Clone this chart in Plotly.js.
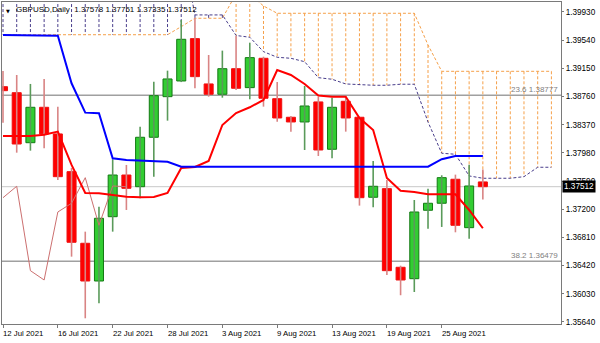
<!DOCTYPE html>
<html>
<head>
<meta charset="utf-8">
<script src="https://cdn.plot.ly/plotly-3.0.1.min.js"></script>
<style>
html,body{margin:0;padding:0;background:#ffffff;}
#chart{width:600px;height:343px;}
</style>
</head>
<body>
<div id="chart"></div>
<script>
// ---------------- data ----------------
const dates = ['2021-07-12','2021-07-13','2021-07-14','2021-07-15','2021-07-16',
  '2021-07-19','2021-07-20','2021-07-21','2021-07-22','2021-07-23',
  '2021-07-26','2021-07-27','2021-07-28','2021-07-29','2021-07-30',
  '2021-08-02','2021-08-03','2021-08-04','2021-08-05','2021-08-06',
  '2021-08-09','2021-08-10','2021-08-11','2021-08-12','2021-08-13',
  '2021-08-16','2021-08-17','2021-08-18','2021-08-19','2021-08-20',
  '2021-08-23','2021-08-24','2021-08-25','2021-08-26','2021-08-27',
  '2021-08-30'];
const openP  = [1.38896,1.38813,1.38121,1.38611,1.38242,1.37720,1.36729,1.36207,1.37097,1.37674,
  1.37512,1.38196,1.38758,1.38975,1.39561,1.38934,1.38791,1.39145,1.38883,1.39289,
  1.38730,1.38473,1.38408,1.38685,1.38030,1.38694,1.38473,1.37366,1.37485,1.36397,
  1.36239,1.37186,1.37283,1.37615,1.36945,1.37578];
const highP  = [1.39114,1.39058,1.38934,1.39003,1.38620,1.37771,1.36890,1.37236,1.37892,1.37813,
  1.38343,1.38966,1.39118,1.39819,1.39843,1.39335,1.39395,1.39598,1.39505,1.39311,
  1.38961,1.38491,1.38906,1.38758,1.38744,1.38758,1.38477,1.37868,1.37605,1.36419,
  1.37328,1.37485,1.37670,1.37679,1.37817,1.37751];
const lowP   = [1.38398,1.37983,1.38011,1.38044,1.37605,1.36544,1.35691,1.35899,1.36890,1.37190,
  1.37352,1.37651,1.38426,1.38960,1.38874,1.38758,1.38744,1.38851,1.38722,1.38620,
  1.38412,1.38274,1.38020,1.37937,1.37905,1.38274,1.37250,1.37227,1.36290,1.36010,
  1.36055,1.36931,1.36955,1.36881,1.36793,1.37335];
const closeP = [1.38841,1.38103,1.38611,1.38242,1.37651,1.36743,1.36207,1.37075,1.37674,1.37490,
  1.38196,1.38772,1.39003,1.39552,1.39035,1.38791,1.39145,1.38874,1.39298,1.38736,
  1.38463,1.38408,1.38629,1.38020,1.38611,1.38463,1.37360,1.37518,1.36350,1.36221,
  1.37162,1.37283,1.37637,1.36978,1.37522,1.37512];

// Ichimoku lines
const tenkan = [1.38214,1.38214,1.38214,1.38232,1.38274,1.37813,1.37425,1.37421,1.37398,1.37374,
  1.37366,1.37370,1.37425,1.37771,1.37785,1.37868,1.38366,1.38532,1.38611,1.38712,
  1.39127,1.39058,1.38934,1.38775,1.38758,1.38758,1.38463,1.38297,1.37633,1.37457,
  1.37439,1.37407,1.37407,1.37407,1.37190,1.36937];
const kijun = [1.39612,1.39612,1.39602,1.39602,1.39602,1.38943,1.38537,1.38528,1.37905,1.37882,
  1.37875,1.37868,1.37858,1.37789,1.37789,1.37789,1.37789,1.37789,1.37789,1.37789,
  1.37789,1.37789,1.37789,1.37789,1.37789,1.37789,1.37789,1.37789,1.37789,1.37789,
  1.37789,1.37789,1.37892,1.37937,1.37937,1.37937];
// Senkou span A (dark slate blue) and span B (sandy brown), 41 bars incl. 5 ahead
const spanA = [1.40870,1.40870,1.40870,1.40870,1.40870,1.40870,1.40870,1.40870,1.40870,1.40870,
  1.40870,1.40870,1.40870,1.40870,1.39889,1.39889,1.39889,1.39605,1.39580,1.39381,
  1.39303,1.39289,1.39242,1.39021,1.38999,1.38934,1.38920,1.38916,1.38916,1.38930,
  1.38930,1.38408,1.37975,1.37961,1.37661,1.37629,1.37629,1.37629,1.37651,1.37781,
  1.37781];
const spanB = [1.39615,1.39615,1.39615,1.39615,1.39615,1.39615,1.39615,1.39615,1.39615,1.39615,
  1.39615,1.39615,1.39615,1.39727,1.39843,1.39843,1.39843,1.40179,1.40179,1.40013,
  1.39912,1.39912,1.39912,1.39912,1.39912,1.39912,1.39912,1.39912,1.39912,1.39912,
  1.39912,1.39473,1.39109,1.39109,1.39109,1.39109,1.39109,1.39109,1.39109,1.39109,
  1.39109];
const chikouShift = 26;

const fibLevels = [1.38777, 1.36479];
const fibLabels = ['23.6 1.38777', '38.2 1.36479'];
const bidPrice = 1.37512;

const tickDates = ['2021-07-12','2021-07-16','2021-07-22','2021-07-28','2021-08-03',
  '2021-08-09','2021-08-13','2021-08-19','2021-08-25'];
const tickText = ['12 Jul 2021','16 Jul 2021','22 Jul 2021','28 Jul 2021','3 Aug 2021',
  '9 Aug 2021','13 Aug 2021','19 Aug 2021','25 Aug 2021'];
const yTicks = [1.35640,1.36030,1.36420,1.36810,1.37200,1.37590,1.37980,1.38370,1.38760,1.39150,1.39540,1.39930];
const headerText = 'GBPUSD,Daily\u00a0\u00a01.37578 1.37751 1.37335 1.37512';

// ---------------- build traces ----------------
const idx = dates.map((d, i) => i);
const FONT = 'Liberation Sans, Arial, sans-serif';

// cloud hatch
const hOx = [], hOy = [], hNx = [], hNy = [];
spanA.forEach((a, i) => {
  const b = spanB[i];
  if (b >= a) { hOx.push(i, i, null); hOy.push(b, a, null); }
  else { hNx.push(i, i, null); hNy.push(a, b, null); }
});
const cloudIdx = spanA.map((v, i) => i);

const traces = [];
traces.push({type:'scatter', mode:'lines', x:hOx, y:hOy, hoverinfo:'skip',
  line:{color:'#f5a04a', width:1, dash:'3px,2px'}});
traces.push({type:'scatter', mode:'lines', x:hNx, y:hNy, hoverinfo:'skip',
  line:{color:'#483d8b', width:1, dash:'3px,2px'}});
traces.push({type:'scatter', mode:'lines', x:cloudIdx, y:spanB, hoverinfo:'skip',
  line:{color:'#f5a04a', width:1, dash:'3px,2px'}});
traces.push({type:'scatter', mode:'lines', x:cloudIdx, y:spanA, hoverinfo:'skip',
  line:{color:'#483d8b', width:1, dash:'3px,2px'}});

// wicks
const wUx = [], wUy = [], wDx = [], wDy = [];
idx.forEach(i => {
  if (closeP[i] >= openP[i]) { wUx.push(i, i, null); wUy.push(lowP[i], highP[i], null); }
  else { wDx.push(i, i, null); wDy.push(lowP[i], highP[i], null); }
});
traces.push({type:'scatter', mode:'lines', x:wUx, y:wUy, hoverinfo:'skip',
  line:{color:'#5a9a5a', width:1.6}});
traces.push({type:'scatter', mode:'lines', x:wDx, y:wDy, hoverinfo:'skip',
  line:{color:'#d98484', width:1.6}});

// bodies
const up = idx.filter(i => closeP[i] >= openP[i]);
const dn = idx.filter(i => closeP[i] < openP[i]);
traces.push({type:'bar', x:up, base:up.map(i => openP[i]), y:up.map(i => closeP[i] - openP[i]),
  width:0.66, hoverinfo:'skip', marker:{color:'#32cd32', line:{color:'#137a13', width:1}}});
traces.push({type:'bar', x:dn, base:dn.map(i => closeP[i]), y:dn.map(i => openP[i] - closeP[i]),
  width:0.66, hoverinfo:'skip', marker:{color:'#ff0000', line:{color:'#ee1010', width:1}}});

// chikou span (closes shifted back)
const chikouY = closeP.slice(chikouShift);
traces.push({type:'scatter', mode:'lines', x:chikouY.map((v, i) => i), y:chikouY, hoverinfo:'skip',
  line:{color:'#cc7070', width:1}});
// tenkan / kijun
traces.push({type:'scatter', mode:'lines', x:idx, y:tenkan, hoverinfo:'skip',
  line:{color:'#ff0000', width:2}});
traces.push({type:'scatter', mode:'lines', x:idx, y:kijun, hoverinfo:'skip',
  line:{color:'#0000ff', width:2}});

// ---------------- layout ----------------
const pxPerBar = 13.71;
const plotW = 600 - 2 - 39;
const x0 = -1 / pxPerBar;
const xRange = [x0, x0 + plotW / pxPerBar];

const shapes = [];
fibLevels.forEach(v => shapes.push({type:'line', xref:'paper', x0:0, x1:1, yref:'y', y0:v, y1:v,
  layer:'below', line:{color:'#a0a0a0', width:1.5}}));
shapes.push({type:'line', xref:'paper', x0:0, x1:1, yref:'y', y0:bidPrice, y1:bidPrice,
  layer:'below', line:{color:'#c8c8c8', width:1}});

const annotations = [];
fibLevels.forEach((v, k) => annotations.push({xref:'paper', x:1, xanchor:'right', xshift:-1,
  yref:'y', y:v, yanchor:'bottom', yshift:-1, showarrow:false, text:fibLabels[k],
  font:{family:FONT, size:8, color:'#808080'}}));
tickDates.forEach((d, k) => annotations.push({xref:'x', x:dates.indexOf(d), xanchor:'left', xshift:-2,
  yref:'paper', y:-0.028, yanchor:'middle', showarrow:false, text:tickText[k],
  font:{family:FONT, size:7.8, color:'#000000'}}));
annotations.push({xref:'paper', x:1, xanchor:'left', xshift:1, yref:'y', y:bidPrice, yanchor:'middle',
  showarrow:false, text:bidPrice.toFixed(5), bgcolor:'#000000', borderpad:1,
  font:{family:FONT, size:8.2, color:'#ffffff'}});
annotations.push({xref:'paper', x:0, xanchor:'left', xshift:2, yref:'paper', y:1, yanchor:'top', yshift:-4,
  showarrow:false, text:'\u25bc', font:{family:'DejaVu Sans', size:5, color:'#000000'}});
annotations.push({xref:'paper', x:0, xanchor:'left', xshift:12, yref:'paper', y:1, yanchor:'top', yshift:-1,
  showarrow:false, text:headerText, font:{family:FONT, size:8, color:'#000000'}});

const layout = {
  width:600, height:343,
  margin:{l:2, r:39, t:2, b:19, pad:0},
  paper_bgcolor:'#ffffff', plot_bgcolor:'#ffffff',
  showlegend:false, barmode:'overlay', hovermode:false,
  xaxis:{range:xRange, showgrid:false, zeroline:false, showline:true, mirror:true,
    linecolor:'#7a7a7a', linewidth:1, ticks:'outside', ticklen:3, tickcolor:'#7a7a7a',
    tickvals:tickDates.map(d => dates.indexOf(d)), showticklabels:false, fixedrange:true},
  yaxis:{range:[1.35612, 1.40068], side:'right', showgrid:false, zeroline:false, showline:true,
    mirror:true, linecolor:'#7a7a7a', linewidth:1, ticks:'outside', ticklen:2, tickcolor:'#7a7a7a',
    tickvals:yTicks, ticktext:yTicks.map(v => v.toFixed(5)),
    tickfont:{family:FONT, size:8.2, color:'#000000'}, fixedrange:true},
  shapes:shapes, annotations:annotations
};

Plotly.newPlot('chart', traces, layout, {displayModeBar:false, staticPlot:true});
</script>
</body>
</html>
